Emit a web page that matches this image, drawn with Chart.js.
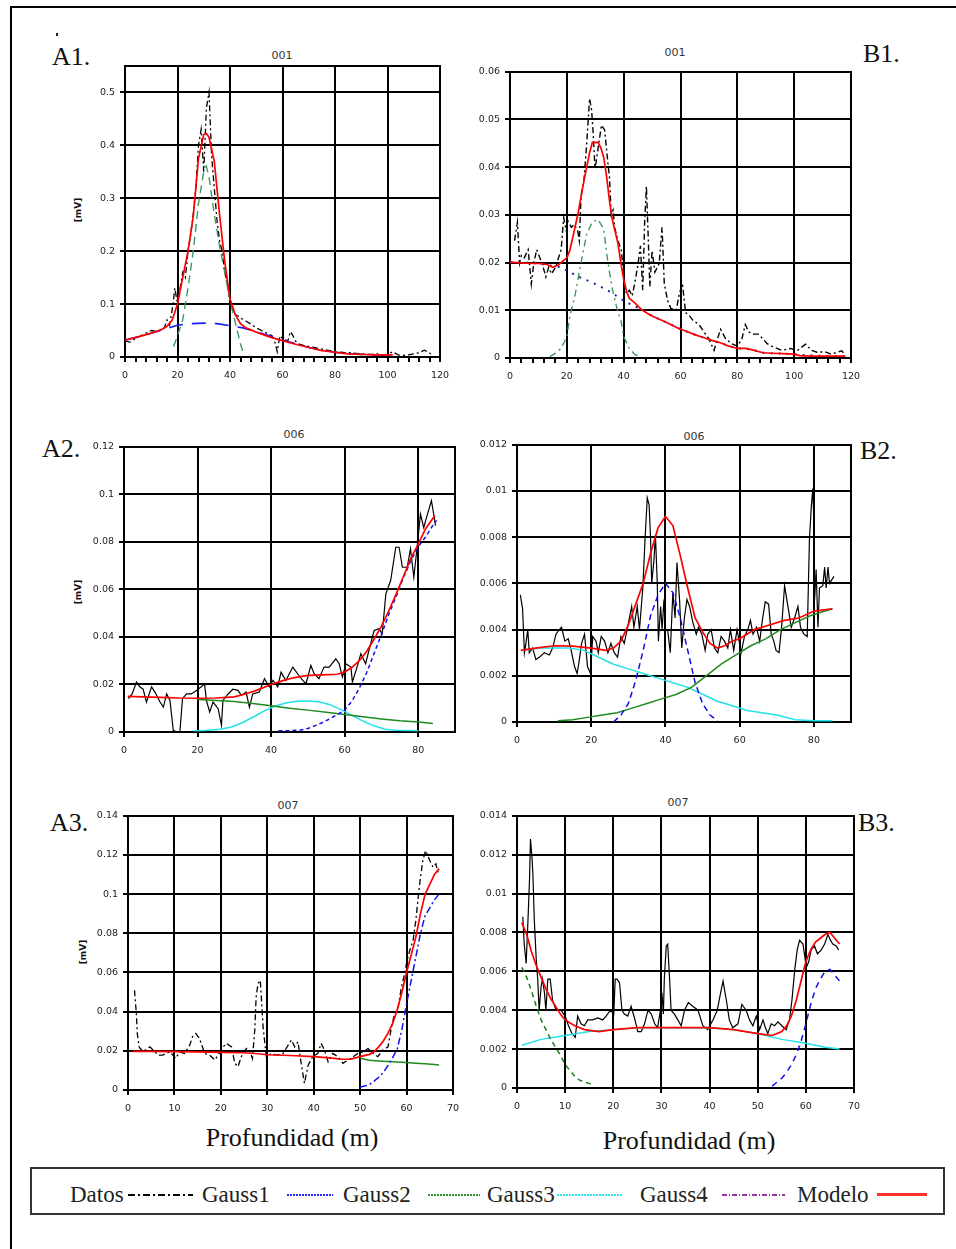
<!DOCTYPE html>
<html><head><meta charset="utf-8">
<script src="https://cdn.jsdelivr.net/npm/chart.js"></script>
<style>
html,body{margin:0;padding:0;background:#fff;width:956px;height:1249px;overflow:hidden;}
.frame{position:absolute;left:10px;top:6px;width:1000px;height:1300px;border:2px solid #000;}
canvas{position:absolute;}
.lab{position:absolute;font-family:"Liberation Serif","Times New Roman",serif;font-size:26px;line-height:26px;color:#111;white-space:nowrap;}
.ttl{position:absolute;transform:translate(-50%,-50%);font-family:"DejaVu Sans",sans-serif;font-size:11px;color:#333;white-space:nowrap;}
.ytl{position:absolute;transform:translate(-50%,-50%) rotate(-90deg);font-family:"DejaVu Sans",sans-serif;font-weight:bold;font-size:9px;color:#111;white-space:nowrap;}
.xtl{position:absolute;transform:translateX(-50%);font-family:"Liberation Serif","Times New Roman",serif;font-size:26px;line-height:26px;color:#111;white-space:nowrap;}
.legbox{position:absolute;left:30px;top:1167px;width:915px;height:48px;border:2px solid #333;box-sizing:border-box;}
.lt{position:absolute;top:1183px;font-family:"Liberation Serif","Times New Roman",serif;font-size:23px;line-height:23px;color:#222;white-space:nowrap;}
.ll{position:absolute;top:1194px;height:2px;}
.dot{position:absolute;width:2px;height:3px;background:#222;}
</style></head>
<body>
<div class="frame"></div>
<div class="dot" style="left:56px;top:33px"></div>
<div class="lab" style="left:52px;top:44px">A1.</div>
<div class="lab" style="left:863px;top:41px">B1.</div>
<div class="lab" style="left:42px;top:436px">A2.</div>
<div class="lab" style="left:860px;top:438px">B2.</div>
<div class="lab" style="left:50px;top:810px">A3.</div>
<div class="lab" style="left:858px;top:810px">B3.</div>
<div class="ttl" style="left:282px;top:55px">001</div>
<div class="ttl" style="left:675px;top:52px">001</div>
<div class="ttl" style="left:294px;top:434px">006</div>
<div class="ttl" style="left:694px;top:436px">006</div>
<div class="ttl" style="left:288px;top:805px">007</div>
<div class="ttl" style="left:678px;top:802px">007</div>
<div class="ytl" style="left:78px;top:210px">[mV]</div>
<div class="ytl" style="left:78px;top:592px">[mV]</div>
<div class="ytl" style="left:83px;top:952px">[mV]</div>
<div class="xtl" style="left:292px;top:1125px">Profundidad (m)</div>
<div class="xtl" style="left:689px;top:1128px">Profundidad (m)</div>
<div class="legbox"></div>
<div class="lt" style="left:70px">Datos</div>
<div class="ll" style="left:128px;width:65px;background:repeating-linear-gradient(90deg,#000 0 7px,transparent 7px 10px,#000 10px 12px,transparent 12px 15px)"></div>
<div class="lt" style="left:202px">Gauss1</div>
<div class="ll" style="left:287px;width:46px;background:repeating-linear-gradient(90deg,#2a2aff 0 2px,transparent 2px 3px)"></div>
<div class="lt" style="left:343px">Gauss2</div>
<div class="ll" style="left:428px;width:52px;background:repeating-linear-gradient(90deg,#2e9a2e 0 2px,transparent 2px 3px)"></div>
<div class="lt" style="left:487px">Gauss3</div>
<div class="ll" style="left:557px;width:66px;background:repeating-linear-gradient(90deg,#33e6ee 0 2px,transparent 2px 3px)"></div>
<div class="lt" style="left:640px">Gauss4</div>
<div class="ll" style="left:722px;width:63px;background:repeating-linear-gradient(90deg,#9933aa 0 5px,transparent 5px 7px,#9933aa 7px 8px,transparent 8px 10px)"></div>
<div class="lt" style="left:797px">Modelo</div>
<div class="ll" style="left:877px;width:50px;height:3px;top:1193px;background:#ff3030"></div>

<script>
// ---------- A1 (001, left) ----------
const a1DatX = [0,2,4,6,8,10,12,14,15,16,17,18,19,20,21,22,23,24,25,26,27,28,29,30,31,32,33,34,35,36,37,38,39,40,41,42,44,45,46,48,50,52,54,56,57,58,59,60,62,63,64,65,66,68,70,72,74,76,78,80,82,84,86,88,90,92,94,96,98,100,102,104,106,108,110,112,114,116,117];
const a1DatY = [0.03,0.028,0.035,0.04,0.045,0.05,0.048,0.052,0.055,0.07,0.06,0.09,0.13,0.1,0.13,0.16,0.15,0.2,0.23,0.27,0.32,0.4,0.43,0.35,0.47,0.5,0.38,0.32,0.26,0.22,0.2,0.16,0.14,0.1,0.09,0.08,0.075,0.07,0.068,0.062,0.055,0.05,0.045,0.04,0.03,0.01,0.04,0.035,0.03,0.048,0.04,0.03,0.025,0.022,0.02,0.018,0.016,0.014,0.012,0.01,0.009,0.008,0.008,0.007,0.006,0.005,0.005,0.006,0.004,0.005,0.01,0.004,0.003,0.004,0.006,0.008,0.013,0.008,0.003];
const a1ModX = [0,5,10,14,16,18,20,22,24,26,28,30,31,32,34,36,38,40,42,44,46,50,55,60,65,70,75,80,85,90,95,102];
const a1ModY = [0.032,0.038,0.045,0.052,0.058,0.07,0.1,0.15,0.2,0.265,0.375,0.42,0.422,0.415,0.37,0.27,0.18,0.11,0.08,0.063,0.055,0.047,0.038,0.031,0.024,0.018,0.012,0.009,0.006,0.005,0.004,0.004];
const a1G1X = [0,5,10,15,20,25,30,35,40,45,50,55,60,65,70,75,80,85,90,95,100];
const a1G1Y = [0.032,0.038,0.045,0.052,0.06,0.063,0.064,0.063,0.059,0.055,0.048,0.04,0.032,0.025,0.018,0.013,0.009,0.006,0.005,0.004,0.004];
const a1G2X = [18.5,20,22,24,26,28,30,31,32,34,36,38,40,42,44,45];
const a1G2Y = [0.02,0.04,0.07,0.13,0.2,0.29,0.35,0.36,0.34,0.27,0.21,0.16,0.107,0.065,0.025,0.008];
const a1XTicks = [0,20,40,60,80,100,120];
const a1YTicks = [0,0.1,0.2,0.3,0.4,0.5];

// ---------- B1 (001, right) ----------
const b1DatX = [1.6,2.6,3.4,4,5,6.4,7.5,8.4,9.4,10.5,11.7,12.6,13.6,14.6,16,18,18.9,19.8,20.4,21.6,22.6,23.8,24.4,25,26,27,28,28.7,29.2,29.9,30.3,31,32.2,33.3,34.6,35,35.6,36.3,36.8,38,39.2,40.3,41,42,43,44,45,45.9,46.7,47.4,48,48.6,49.2,50,51,52.5,53.5,54.3,55.5,56.6,58.5,59.6,60.7,61.8,63,64.2,66.5,68.8,70,71.8,73,74.1,75.9,78,80,81.6,82.8,84,85,87.4,89,90.5,92,95.7,98.7,101,104,106.1,108,110.8,113,116.7,117.8];
const b1DatY = [0.0246,0.0284,0.0199,0.0215,0.021,0.0227,0.0155,0.02,0.0227,0.021,0.019,0.017,0.019,0.0176,0.019,0.0227,0.0294,0.0267,0.0287,0.0274,0.028,0.0267,0.0246,0.034,0.037,0.045,0.0544,0.052,0.0478,0.04,0.041,0.044,0.0488,0.0478,0.04,0.038,0.03,0.031,0.0274,0.0246,0.0225,0.0155,0.0135,0.0142,0.013,0.016,0.0195,0.0235,0.0142,0.0286,0.036,0.026,0.015,0.0225,0.018,0.0198,0.0274,0.0155,0.012,0.0104,0.01,0.0135,0.0155,0.0095,0.009,0.008,0.007,0.005,0.004,0.0016,0.004,0.006,0.004,0.003,0.0025,0.004,0.007,0.0055,0.005,0.005,0.004,0.003,0.0025,0.0016,0.002,0.0015,0.0029,0.0016,0.0012,0.0013,0.0008,0.0015,0.0008];
const b1ModX = [0,5,10,13,15,17,19,20,21,22,24,26,28,29,31,32,33,34,35,36,37,38,39,40,41,42,44,46,48,50,53,56,59,62,65,68,71,74,77,80,83,86,89,92,96,100,102,106,110,114,118];
const b1ModY = [0.0201,0.0199,0.0198,0.0196,0.019,0.0195,0.0205,0.021,0.0225,0.025,0.0305,0.037,0.043,0.0452,0.0452,0.044,0.042,0.038,0.033,0.029,0.0265,0.024,0.02,0.0165,0.014,0.0125,0.0115,0.0103,0.0095,0.0088,0.008,0.0072,0.0063,0.0056,0.0049,0.0043,0.0037,0.0032,0.0025,0.002,0.002,0.0016,0.0011,0.001,0.0009,0.0008,0.0005,0.0004,0.0004,0.0004,0.0004];
const b1G1X = [0,5,10,15,18,21,25,29,33,36,39,42,44,46,50,53,56,59,62,65,68,71,74,77,80,83,86,89,92,96,100,104,108,112,116,118];
const b1G1Y = [0.0201,0.02,0.0198,0.0193,0.019,0.018,0.0168,0.0158,0.0146,0.0136,0.0124,0.0114,0.0108,0.0103,0.0088,0.008,0.0072,0.0063,0.0056,0.0049,0.0043,0.0037,0.0032,0.0025,0.002,0.002,0.0016,0.0011,0.001,0.0009,0.0008,0.0006,0.0005,0.0004,0.0004,0.0004];
const b1G2X = [14,16,18,20,21,23,25,27,29,31,33,34,35,36,38,39,40,42,44,46];
const b1G2Y = [0.0003,0.001,0.002,0.0045,0.0085,0.0135,0.02,0.026,0.0285,0.029,0.027,0.022,0.018,0.0145,0.0095,0.008,0.0045,0.002,0.0007,0.0003];
const b1XTicks = [0,20,40,60,80,100,120];
const b1YTicks = [0,0.01,0.02,0.03,0.04,0.05,0.06];

// ---------- A2 (006, left) ----------
const a2DatX = [1.2,2.2,3.4,4.3,5.2,6.1,7.5,8.4,9.8,10.7,11.6,12.5,13.4,14.3,15.2,15.9,17,18.3,19.7,21,21.9,22.4,23.3,24.2,25.6,26.5,26.9,28.3,29.6,31,31.9,33.2,34.1,35,36.8,38.2,39.5,40.5,41.8,42.7,44,45.9,47.2,48.6,49.5,50.8,51.7,53,54.4,55.8,57.6,58.5,59.4,60.3,61.7,62.1,63.5,64.4,65.7,66.6,68,69.3,70.2,71.2,72.5,73.9,74.8,75.7,77,77.9,78.8,79.7,80.6,81.5,82.4,83.6,84.2,84.7];
const a2DatY = [0.014,0.016,0.021,0.019,0.018,0.0126,0.019,0.0168,0.0126,0.0105,0.016,0.0133,0.0007,0,0,0.014,0.016,0.016,0.0175,0.019,0.0203,0.0133,0.0084,0.0126,0.0098,0.0028,0.0133,0.016,0.018,0.0175,0.0154,0.0168,0.0105,0.016,0.0168,0.0224,0.019,0.0217,0.019,0.0252,0.0217,0.0273,0.0245,0.0217,0.0203,0.028,0.0245,0.0224,0.0273,0.0273,0.0308,0.0287,0.0231,0.0287,0.0273,0.021,0.028,0.0329,0.0287,0.0343,0.0427,0.0434,0.0413,0.0581,0.0637,0.0777,0.0777,0.0693,0.0693,0.077,0.0651,0.0777,0.0917,0.086,0.091,0.0973,0.0917,0.0868];
const a2ModX = [1,5,10,15,20,25,30,33,36,40,43,46,50,54,58,60,62,64,66,68,70,72,74,76,78,80,82,84.5];
const a2ModY = [0.015,0.0148,0.0146,0.0143,0.0142,0.0143,0.0148,0.016,0.0175,0.02,0.0215,0.0228,0.0238,0.024,0.0243,0.0252,0.0272,0.03,0.034,0.039,0.0445,0.051,0.058,0.0655,0.073,0.079,0.0855,0.091];
const a2G1X = [42,46,48,50,52,54,56,58,60,62,64,66,68,70,72,74,76,78,80,82,84,85];
const a2G1Y = [0.0005,0.0006,0.0008,0.0015,0.0027,0.004,0.0056,0.0074,0.0092,0.013,0.0185,0.025,0.033,0.041,0.0495,0.057,0.065,0.072,0.078,0.082,0.087,0.089];
const a2G2X = [20,25,30,35,40,45,50,55,60,65,70,75,80,84];
const a2G2Y = [0.0137,0.0133,0.0128,0.012,0.011,0.01,0.0092,0.0083,0.0074,0.0064,0.0055,0.0047,0.0042,0.0036];
const a2G3X = [19,22,26,29,32,35,38,41,44,47,50,53,56,59,62,65,68,71,74,80];
const a2G3Y = [0.0005,0.0006,0.0012,0.002,0.0038,0.0062,0.0088,0.0108,0.0122,0.0129,0.013,0.0127,0.0115,0.0094,0.007,0.0046,0.0026,0.0012,0.0007,0.0005];
const a2XTicks = [0,20,40,60,80];
const a2YTicks = [0,0.02,0.04,0.06,0.08,0.1,0.12];

// ---------- B2 (006, right) ----------
const b2DatX = [0.9,1.5,2,2.4,2.9,3.3,4.2,5.1,6,7.4,8.7,9.6,10.5,11.4,12,12.9,13.8,14.6,15.5,16.2,16.8,17.4,18.2,19,19.8,20.4,21.3,21.9,22.7,23.6,24.5,25.3,26.2,27.1,28,28.9,29.8,30.9,31.5,32.4,33,33.9,34.5,35.1,35.6,36,36.3,36.9,37.3,37.8,38.1,38.7,39.1,39.6,40,40.6,41.3,42,42.6,43.1,43.8,44.4,45.1,45.8,46.5,47.4,48.3,48.9,49.8,50.7,51.4,52.3,53.2,54.1,55,55.9,56.8,57.5,58.4,59.3,60.4,61.3,62.2,62.9,63.6,64.5,65.4,66.2,66.9,67.8,68.5,69.2,69.8,70.6,71.3,72.1,73,73.9,74.8,75.7,76.4,77.3,78.2,78.8,79.3,79.7,80,80.2,80.6,81.1,81.5,82.4,82.9,83.3,83.8,84.2,85.4];
const b2DatY = [0.0055,0.0049,0.003,0.0034,0.004,0.003,0.0032,0.0027,0.0028,0.003,0.0029,0.0032,0.0038,0.004,0.0041,0.0035,0.0036,0.0031,0.0024,0.0021,0.0027,0.0034,0.0038,0.0024,0.0021,0.0037,0.0035,0.003,0.0037,0.0035,0.003,0.0034,0.003,0.0028,0.0037,0.0034,0.0041,0.005,0.0041,0.005,0.004,0.0058,0.0079,0.0097,0.0094,0.0079,0.006,0.007,0.0081,0.006,0.0035,0.005,0.004,0.0053,0.004,0.004,0.003,0.0056,0.0045,0.0069,0.0053,0.0032,0.0045,0.0053,0.005,0.0043,0.0038,0.0041,0.0038,0.0031,0.0038,0.004,0.0032,0.003,0.0037,0.0035,0.0032,0.004,0.0031,0.004,0.003,0.0037,0.004,0.0044,0.0038,0.0041,0.0035,0.0045,0.0052,0.0051,0.0038,0.0035,0.0031,0.003,0.0041,0.0059,0.005,0.0041,0.0045,0.005,0.0041,0.0038,0.0037,0.0079,0.0093,0.0101,0.0087,0.0053,0.0066,0.0041,0.0058,0.0059,0.0067,0.0058,0.0067,0.006,0.0063];
const b2ModX = [1,5,10,15,20,24,26,28,30,32,34,36,38,40,42,44,46,48,50,52,54,56,58,60,64,68,72,76,80,85];
const b2ModY = [0.0031,0.0032,0.0033,0.00328,0.0032,0.0031,0.0032,0.0035,0.0042,0.0051,0.006,0.0073,0.0084,0.0089,0.0085,0.0072,0.0058,0.0045,0.0039,0.0034,0.0032,0.0033,0.0035,0.0036,0.004,0.0042,0.0044,0.0045,0.0048,0.0049];
const b2G1X = [26,28,30,32,34,36,38,40,42,44,46,48,50,52,54];
const b2G1Y = [0,0.0003,0.0008,0.0018,0.0031,0.0046,0.0055,0.006,0.0056,0.0045,0.0031,0.0017,0.0008,0.0003,0.00005];
const b2G2X = [11,15,19,23,27,31,35,39,43,47,51,55,59,63,67,71,75,79,83,85];
const b2G2Y = [0.00005,0.0001,0.0002,0.0003,0.0004,0.0006,0.0008,0.001,0.0012,0.0015,0.002,0.0025,0.0029,0.0033,0.0036,0.004,0.0043,0.0046,0.0048,0.0049];
const b2G3X = [2,6,10,14,18,22,26,30,34,38,42,46,50,54,58,62,66,70,75,80,85];
const b2G3Y = [0.0031,0.0032,0.0032,0.0032,0.0031,0.0028,0.0025,0.0023,0.0021,0.0019,0.0017,0.0015,0.0012,0.0009,0.0007,0.0005,0.0004,0.0003,0.0001,0.00005,0.00005];
const b2XTicks = [0,20,40,60,80];
const b2YTicks = [0,0.002,0.004,0.006,0.008,0.01,0.012];

// ---------- A3 (007, left) ----------
const a3DatX = [1.4,1.8,2,2.4,3.2,4.7,5.4,6.5,7.5,9,10.3,11.1,12.2,13.3,13.9,14.6,15.4,16.5,17.6,18.7,19.4,20.5,21.2,22.3,23,23.7,24.4,25.5,26.2,26.8,27.3,27.6,28,28.5,29.1,29.4,29.8,30.9,31.9,33.4,34.5,35.2,35.9,36.6,37.3,38,38.8,39.8,40.9,41.6,42.3,43.1,44.1,45.2,46.3,47.4,48.5,49.5,50.6,51.7,52.8,53.8,54.9,56,56.7,57.4,58.2,58.9,59.6,60.1,60.7,61.4,62,62.5,63,63.5,64.1,65,65.7,66.3,66.8];
const a3DatY = [0.0509,0.039,0.0288,0.022,0.0195,0.022,0.0204,0.0178,0.0178,0.0195,0.0161,0.0195,0.0187,0.0229,0.0272,0.0288,0.0263,0.0187,0.0178,0.0153,0.0178,0.022,0.0238,0.022,0.0136,0.0119,0.017,0.0212,0.0204,0.0161,0.0305,0.0475,0.0543,0.056,0.0322,0.0255,0.017,0.0187,0.0178,0.0187,0.0229,0.0255,0.022,0.0246,0.0136,0.0034,0.0127,0.017,0.0187,0.0238,0.0204,0.0144,0.0187,0.017,0.0136,0.0153,0.017,0.0187,0.0195,0.0212,0.0187,0.017,0.0204,0.022,0.0314,0.039,0.0424,0.0526,0.0594,0.0662,0.0713,0.0764,0.0865,0.0984,0.1086,0.1171,0.1222,0.1171,0.1137,0.1154,0.1111];
const a3ModX = [1,5,10,15,20,25,28,30,35,40,44,46,48,50,52,53,54,55,56,57,58,59,60,61,62,63,64,65,66,67];
const a3ModY = [0.0197,0.0197,0.0196,0.0195,0.0192,0.019,0.0185,0.018,0.0176,0.017,0.0163,0.0157,0.0158,0.017,0.0182,0.0195,0.022,0.025,0.029,0.034,0.041,0.05,0.06,0.069,0.078,0.09,0.1,0.105,0.11,0.113];
const a3G1X = [50,51,52,53,54,55,56,57,58,59,60,61,62,63,64,65,66,67];
const a3G1Y = [0.0015,0.002,0.0028,0.0045,0.0065,0.009,0.0125,0.0165,0.021,0.031,0.044,0.056,0.068,0.08,0.089,0.093,0.097,0.1];
const a3G2X = [50,52,54,56,58,60,62,64,66,67];
const a3G2Y = [0.0162,0.0152,0.0148,0.0145,0.0143,0.014,0.0137,0.0134,0.013,0.0128];
const a3XTicks = [0,10,20,30,40,50,60,70];
const a3YTicks = [0,0.02,0.04,0.06,0.08,0.1,0.12,0.14];

// ---------- B3 (007, right) ----------
const b3DatX = [1.2,1.5,1.9,2.2,2.6,2.8,3.1,3.3,3.6,4,4.3,4.6,5,5.3,5.7,6,6.4,6.9,7.4,8.1,9.1,10,10.7,11.4,12.1,12.6,13.3,14,14.7,15.7,16.8,17.8,18.5,19.4,20.1,20.4,20.8,21.3,21.8,22.3,23,23.7,24.4,25.1,25.8,26.5,27.2,27.9,28.6,29.2,29.8,30.1,30.4,30.6,31,31.3,31.7,32,32.7,33.4,34.1,34.8,35.6,36.5,37.6,38.6,39.6,40.7,41.6,42.3,42.8,43.5,44.1,44.8,45.9,46.7,47.6,48.3,49,49.7,50.4,51.1,51.6,52.1,52.8,53.5,54.2,55,55.9,56.6,57.1,57.7,58.2,58.7,59.4,59.7,60.1,60.6,61.1,61.8,62.4,63.2,63.9,64.6,65.1,65.6,66.3,66.8];
const b3DatY = [0.0088,0.0074,0.0064,0.0081,0.0107,0.0128,0.0119,0.011,0.0086,0.0066,0.0056,0.004,0.0052,0.0056,0.0049,0.004,0.0056,0.0056,0.0045,0.004,0.004,0.0037,0.0032,0.0028,0.0026,0.0037,0.0033,0.0032,0.0035,0.0035,0.0036,0.0035,0.0037,0.004,0.0038,0.0056,0.0056,0.0054,0.004,0.0038,0.0037,0.0042,0.0036,0.0029,0.0029,0.0033,0.004,0.0038,0.0033,0.0031,0.004,0.0049,0.0038,0.0056,0.0073,0.0074,0.0056,0.004,0.0038,0.0035,0.0032,0.004,0.0044,0.0042,0.004,0.0032,0.003,0.0035,0.004,0.0049,0.0055,0.0045,0.0035,0.0031,0.0033,0.0043,0.004,0.0035,0.0032,0.0037,0.003,0.0035,0.0031,0.0028,0.0033,0.0032,0.0034,0.0032,0.003,0.0035,0.0045,0.0061,0.0071,0.0076,0.0074,0.0069,0.0062,0.0065,0.0071,0.0073,0.0069,0.0071,0.0074,0.0079,0.0076,0.0074,0.0073,0.0071];
const b3ModX = [1,2,3,4,5,6,7,8,9,10,12,14,17,20,25,30,35,40,45,50,53,55,56,57,58,59,60,61,62,63,64,65,66,67];
const b3ModY = [0.0085,0.0079,0.007,0.0063,0.0057,0.0051,0.0046,0.0042,0.0038,0.0035,0.0032,0.003,0.0029,0.003,0.0031,0.0031,0.0031,0.0031,0.003,0.0028,0.0027,0.0029,0.0032,0.0037,0.0045,0.0055,0.0065,0.0071,0.0075,0.0077,0.0079,0.008,0.0077,0.0074];
const b3G1X = [53,54,55,56,57,58,59,60,61,62,63,64,65,66,67];
const b3G1Y = [0.0001,0.0003,0.0005,0.0008,0.0012,0.0017,0.0024,0.0033,0.0043,0.0051,0.0056,0.006,0.0061,0.0058,0.0055];
const b3G2X = [1,2,3,4,5,6,7,8,9,10,11,12,13,14,15.5];
const b3G2Y = [0.0062,0.0057,0.005,0.0042,0.0035,0.003,0.0025,0.0021,0.0017,0.0012,0.0009,0.0006,0.0004,0.0003,0.0002];
const b3G3X = [1,5,10,15,20,25,30,35,40,45,50,55,60,64,67];
const b3G3Y = [0.0022,0.0025,0.0027,0.0029,0.003,0.0031,0.0031,0.0031,0.0031,0.003,0.0028,0.0025,0.0023,0.0021,0.002];
const b3XTicks = [0,10,20,30,40,50,60,70];
const b3YTicks = [0,0.002,0.004,0.006,0.008,0.01,0.012,0.014];

// ---------- styling helpers ----------
const RED = '#ff0000', BLK = '#000000';
function ds(label, xs, ys, color, width, dash){
  const n = Math.min(xs.length, ys.length);
  const data = [];
  for (let i = 0; i < n; i++) data.push({x: xs[i], y: ys[i]});
  return {label, data, borderColor: color, backgroundColor: color, borderWidth: width,
          borderDash: dash || [], pointRadius: 0, pointHoverRadius: 0, fill: false, tension: 0};
}
const framePlugin = {
  id: 'frame',
  beforeDatasetsDraw(chart){
    const a = chart.chartArea, c = chart.ctx;
    c.save(); c.strokeStyle = '#000'; c.lineWidth = 2;
    c.strokeRect(Math.round(a.left), Math.round(a.top), Math.round(a.right - a.left), Math.round(a.bottom - a.top));
    c.restore();
  }
};
function panel(rect, xMax, yMax, xMajor, minorStep, yMajor, datasets){
  const YW = 45, XH = 32, PT = 10, PR = 18;
  const w = rect.r - rect.l + YW + PR, h = rect.b - rect.t + PT + XH;
  const cv = document.createElement('canvas');
  cv.width = w; cv.height = h;
  cv.style.left = (rect.l - YW) + 'px'; cv.style.top = (rect.t - PT) + 'px';
  cv.style.width = w + 'px'; cv.style.height = h + 'px';
  document.body.appendChild(cv);
  const xSet = new Set(xMajor);
  const xAll = [];
  if (minorStep) { for (let v = 0; v <= xMax; v += minorStep) xAll.push(v); } else xAll.push(...xMajor);
  const tickFont = {family: 'DejaVu Sans', size: 9.5};
  new Chart(cv, {
    type: 'line',
    data: {datasets},
    options: {
      responsive: false, animation: false, devicePixelRatio: 1, events: [],
      layout: {padding: {top: PT, right: PR, left: 0, bottom: 0}},
      plugins: {legend: {display: false}, tooltip: {enabled: false}, title: {display: false}},
      scales: {
        x: {type: 'linear', min: 0, max: xMax,
            afterBuildTicks: s => { s.ticks = xAll.map(v => ({value: v})); },
            afterFit: s => { s.height = XH; },
            ticks: {autoSkip: false, maxRotation: 0, minRotation: 0, padding: 8, color: '#222', font: tickFont,
                    callback: v => xSet.has(v) ? String(v) : ''},
            grid: {color: c => (c.tick && !xSet.has(c.tick.value)) ? 'rgba(0,0,0,0)' : '#000',
                   lineWidth: 2, tickColor: '#000', tickLength: 5, tickWidth: 2},
            border: {display: false}},
        y: {type: 'linear', min: 0, max: yMax,
            afterBuildTicks: s => { s.ticks = yMajor.map(v => ({value: v})); },
            afterFit: s => { s.width = YW; },
            ticks: {autoSkip: false, padding: 5, color: '#222', font: tickFont, callback: v => String(v)},
            grid: {color: '#000', lineWidth: 2, tickColor: '#000', tickLength: 5, tickWidth: 2},
            border: {display: false}}
      }
    },
    plugins: [framePlugin]
  });
}

// A1
panel({l:125, t:65, r:440, b:357}, 120, 0.55, a1XTicks, 4, a1YTicks, [
  ds('Modelo', a1ModX, a1ModY, RED, 1.7),
  ds('Gauss1', a1G1X, a1G1Y, '#1a1aff', 1.6, [14, 9]),
  ds('Gauss2', a1G2X, a1G2Y, '#3c9a60', 1.4, [8, 5]),
  ds('Datos', a1DatX, a1DatY, BLK, 1.3, [6, 3, 2, 3])
]);
// B1
panel({l:510, t:71, r:851, b:358}, 120, 0.06, b1XTicks, 4, b1YTicks, [
  ds('Modelo', b1ModX, b1ModY, RED, 1.7),
  ds('Gauss1', b1G1X, b1G1Y, '#22229a', 2, [2, 6]),
  ds('Gauss2', b1G2X, b1G2Y, '#3c9a60', 1.4, [7, 4, 2, 4]),
  ds('Datos', b1DatX, b1DatY, BLK, 1.4, [6, 3, 2, 3])
]);
// A2
panel({l:124, t:446, r:455, b:732}, 90, 0.12, a2XTicks, 0, a2YTicks, [
  ds('Modelo', a2ModX, a2ModY, RED, 1.7),
  ds('Gauss1', a2G1X, a2G1Y, '#1010ee', 1.5, [4, 3]),
  ds('Gauss2', a2G2X, a2G2Y, '#1f8a1f', 1.5),
  ds('Gauss3', a2G3X, a2G3Y, '#22e2ea', 1.5),
  ds('Datos', a2DatX, a2DatY, BLK, 1.2)
]);
// B2
panel({l:517, t:444, r:851, b:722}, 90, 0.012, b2XTicks, 0, b2YTicks, [
  ds('Modelo', b2ModX, b2ModY, RED, 1.7),
  ds('Gauss1', b2G1X, b2G1Y, '#1010ee', 1.5, [6, 4]),
  ds('Gauss2', b2G2X, b2G2Y, '#1f8a1f', 1.5),
  ds('Gauss3', b2G3X, b2G3Y, '#22e2ea', 1.5),
  ds('Datos', b2DatX, b2DatY, BLK, 1.2)
]);
// A3
panel({l:128, t:815, r:453, b:1090}, 70, 0.14, a3XTicks, 0, a3YTicks, [
  ds('Modelo', a3ModX, a3ModY, RED, 1.7),
  ds('Gauss1', a3G1X, a3G1Y, '#1010ee', 1.5, [7, 3, 2, 3]),
  ds('Gauss2', a3G2X, a3G2Y, '#1f8a1f', 1.5),
  ds('Datos', a3DatX, a3DatY, BLK, 1.3, [6, 3, 2, 3])
]);
// B3
panel({l:517, t:815, r:854, b:1088}, 70, 0.014, b3XTicks, 0, b3YTicks, [
  ds('Modelo', b3ModX, b3ModY, RED, 1.7),
  ds('Gauss1', b3G1X, b3G1Y, '#1010ee', 1.5, [6, 5]),
  ds('Gauss2', b3G2X, b3G2Y, '#1f7a1f', 1.5, [5, 4]),
  ds('Gauss3', b3G3X, b3G3Y, '#22e2ea', 1.5),
  ds('Datos', b3DatX, b3DatY, BLK, 1.2)
]);
</script>
</body></html>
